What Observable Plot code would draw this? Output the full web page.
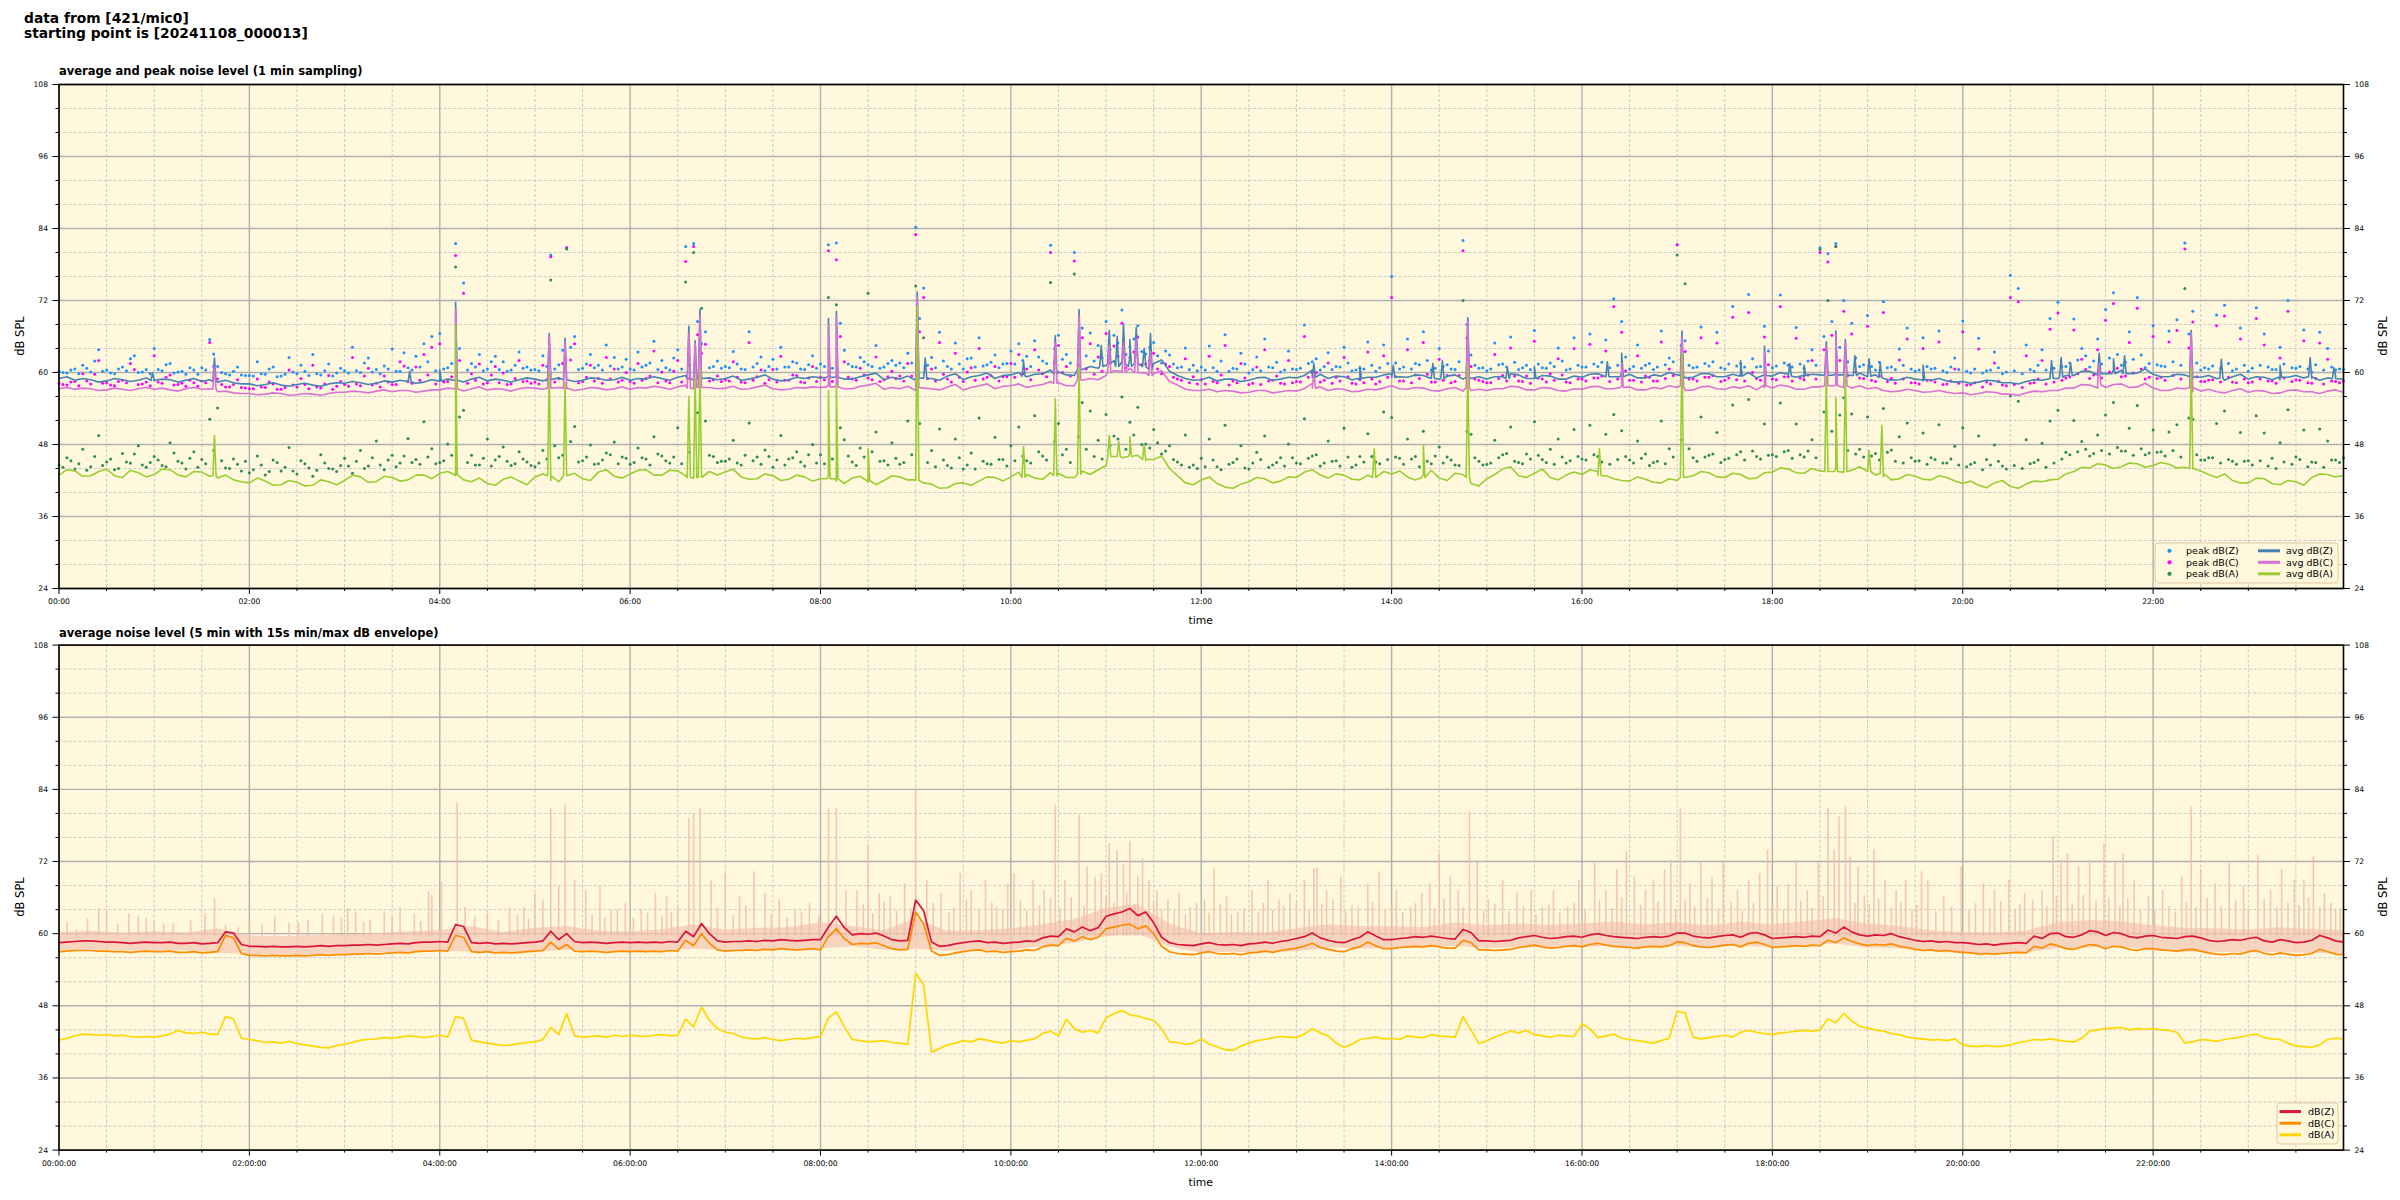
<!DOCTYPE html>
<html><head><meta charset="utf-8">
<script src="https://cdn.jsdelivr.net/npm/d3@7"></script>
<script src="https://cdn.jsdelivr.net/npm/@observablehq/plot@0.6"></script>
<style>
body{margin:0;background:#fff;}
#root{position:relative;width:2400px;height:1200px;overflow:hidden;background:#fff;}
#root > svg{position:absolute;left:0;}
</style></head><body><div id="root"></div>
<script>
// ---------------- tick definitions ----------------
const yMajor = [24, 36, 48, 60, 72, 84, 96, 108];
const xMajor = [0, 120, 240, 360, 480, 600, 720, 840, 960, 1080, 1200, 1320];
const xLabelsTop = ["00:00","02:00","04:00","06:00","08:00","10:00","12:00","14:00","16:00","18:00","20:00","22:00"];
const xLabelsBottom = ["00:00:00","02:00:00","04:00:00","06:00:00","08:00:00","10:00:00","12:00:00","14:00:00","16:00:00","18:00:00","20:00:00","22:00:00"];

// ---------------- top chart: 1-min averages (5-min samples, one row per hour) ----------------
const avgZ = [
59.0,59.3,58.7,59.0,58.8,58.4,58.6,59.0,58.8,58.5,58.7,59.1, 58.6,58.9,58.8,58.4,58.7,59.0,58.5,58.8,58.4,58.7,58.3,58.1,
58.1,57.8,58.0,58.3,57.9,57.7,58.0,58.2,57.9,57.7,58.1,58.3, 58.2,58.5,58.3,58.0,58.2,58.6,58.4,58.7,58.5,58.2,58.4,58.8,
58.6,58.9,58.7,58.4,58.9,59.2,58.6,58.9,58.7,58.4,58.8,59.1, 58.9,58.6,59.3,59.1,58.8,58.5,58.7,59.1,59.0,58.7,58.8,59.2,
58.7,59.0,58.9,59.3,59.0,58.7,59.2,59.5,58.8,59.1,59.1,58.8, 59.0,59.4,58.7,58.9,59.2,59.6,58.9,58.6,58.8,59.2,59.0,59.3,
59.1,59.5,59.4,58.9,58.9,59.3,59.6,59.9,58.8,59.2,58.9,59.4, 58.7,59.1,59.0,58.7,59.4,59.8,58.8,59.3,59.5,59.9,59.0,59.5,
59.6,60.0,59.3,59.7,59.8,60.4,60.1,59.6,59.5,60.5,61.0,60.7, 61.2,62.0,61.8,62.4,62.5,61.5,61.5,62.1,60.2,59.5,59.0,58.7,
58.8,59.2,58.6,58.9,58.9,58.5,58.7,59.1,59.2,58.7,58.9,59.2, 59.1,59.5,60.4,59.7,59.0,59.4,59.3,58.8,58.8,59.2,59.2,59.6,
59.8,59.3,59.2,59.6,59.5,59.0,58.9,59.4,59.6,58.9,59.0,59.3, 58.9,59.3,59.3,59.8,59.6,59.0,59.0,59.5,59.4,58.9,58.9,59.4,
59.2,59.7,59.8,59.3,59.3,59.9,59.7,59.1,59.1,59.6,59.4,60.0, 59.6,59.1,59.2,59.8,59.8,59.3,59.3,59.7,59.5,60.0,59.1,59.6,
59.4,60.0,59.7,59.2,59.2,59.7,59.6,60.2,60.0,59.6,59.5,59.9, 59.3,59.6,59.0,58.7,58.8,59.2,58.9,58.6,58.7,59.0,58.6,58.4,
58.5,58.2,58.4,58.7,58.6,58.3,58.3,58.1,58.5,58.8,58.7,59.0, 59.0,59.5,59.5,60.2,60.2,59.6,59.8,60.4,60.4,59.8,59.9,60.6,
59.7,59.3,59.3,59.7,59.6,59.0,59.2,59.5,59.0,58.7,59.3,59.7, 58.9,59.3,59.2,58.8,58.8,59.2,59.5,59.1,59.0,58.7,59.1,59.4,
58.9];
const avgC = [
57.3,57.5,57.2,57.4,57.3,57.0,57.1,57.4,57.2,57.0,57.3,57.5, 57.2,57.4,57.1,56.9,57.3,57.5,57.2,57.3,56.8,56.9,56.6,56.5,
56.5,56.3,56.4,56.6,56.5,56.2,56.3,56.5,56.4,56.2,56.5,56.7, 56.7,56.9,56.8,56.6,56.9,57.1,56.8,57.0,57.0,56.7,56.9,57.1,
57.1,57.4,57.2,56.9,57.3,57.6,57.1,57.3,57.2,56.9,57.3,57.5, 57.4,57.2,57.7,57.5,57.3,57.0,57.2,57.5,57.4,57.1,57.3,57.6,
57.2,57.5,57.4,57.7,57.5,57.2,57.6,57.9,57.3,57.5,57.5,57.3, 57.4,57.7,57.2,57.3,57.6,57.9,57.3,57.1,57.2,57.5,57.4,57.6,
57.5,57.9,57.8,57.3,57.3,57.7,57.9,58.2,57.2,57.5,57.3,57.7, 57.0,57.4,57.3,57.1,57.6,58.0,57.1,57.5,57.8,58.1,57.3,57.7,
57.8,58.1,57.5,57.8,58.0,58.5,58.3,57.8,57.8,58.7,59.0,58.8, 59.5,60.3,60.2,60.7,60.8,59.9,59.8,60.3,58.5,57.9,57.2,57.0,
57.0,57.2,56.8,57.0,56.9,56.6,56.7,57.0,57.0,56.6,56.8,57.0, 56.9,57.3,58.2,57.6,57.0,57.3,57.2,56.8,56.9,57.2,57.1,57.4,
57.8,57.3,57.2,57.5,57.4,57.0,56.9,57.3,57.5,56.9,57.0,57.2, 57.0,57.3,57.3,57.7,57.6,57.1,57.1,57.5,57.4,57.0,56.9,57.3,
57.2,57.6,57.7,57.3,57.3,57.8,57.6,57.1,57.1,57.5,57.3,57.8, 57.5,57.0,57.1,57.6,57.7,57.3,57.2,57.6,57.4,57.8,57.1,57.5,
57.4,57.9,57.7,57.2,57.2,57.6,57.6,58.1,57.9,57.5,57.4,57.8, 57.3,57.5,57.0,56.8,56.9,57.2,57.0,56.7,56.8,57.0,56.7,56.5,
56.6,56.3,56.5,56.8,56.7,56.4,56.4,56.2,56.6,56.9,56.8,57.0, 57.0,57.4,57.4,58.0,57.9,57.4,57.5,58.0,58.1,57.5,57.6,58.2,
57.4,57.0,57.0,57.4,57.3,56.8,56.9,57.2,56.8,56.6,57.0,57.3, 56.7,57.0,56.9,56.5,56.6,57.0,57.1,56.8,56.8,56.5,56.9,57.1,
56.7];
const avgA = [
42.9,43.8,43.6,42.7,42.8,43.5,43.9,42.8,42.5,43.7,43.3,42.6, 43.0,43.9,43.8,42.9,42.6,43.5,43.4,42.7,42.4,42.9,42.1,41.8,
41.6,42.4,41.9,41.2,41.3,42.0,41.7,41.1,41.2,42.1,41.8,41.3, 42.0,42.9,42.6,41.7,41.8,42.7,42.5,41.9,42.1,42.9,42.9,42.3,
43.2,43.5,42.8,42.1,41.8,42.4,41.5,41.2,42.2,42.6,41.9,41.3, 42.6,43.1,42.0,41.8,42.8,43.2,42.3,42.0,43.4,43.8,42.7,42.4,
43.1,43.7,43.8,42.9,42.9,43.7,43.6,42.8,42.4,43.2,43.5,42.9, 43.4,43.9,42.6,42.2,42.3,43.1,42.8,42.0,42.2,42.9,42.6,41.9,
42.3,42.8,41.9,41.5,42.4,42.7,41.7,41.3,42.0,42.8,42.6,42.1, 42.1,41.6,41.4,40.7,40.8,41.5,41.6,41.2,41.9,42.6,42.5,41.9,
42.6,43.4,43.0,42.4,42.2,43.3,43.2,42.5,42.5,43.6,43.0,43.8, 44.5,46.0,45.8,46.6,46.2,45.3,45.5,46.1,44.0,42.8,41.6,41.3,
42.1,42.6,41.5,40.9,40.7,41.4,41.8,42.5,42.3,41.6,41.9,42.6, 42.5,43.4,43.8,42.9,42.4,43.1,42.9,42.2,42.1,42.9,42.8,43.5,
43.1,43.6,42.6,42.1,43.0,43.7,42.4,42.0,43.2,43.0,41.5,41.1, 42.3,43.0,43.9,44.3,42.8,42.5,43.2,43.9,42.5,42.1,42.9,43.4,
43.0,43.8,43.5,42.8,42.3,42.0,41.9,42.6,42.2,41.7,41.6,42.3, 42.0,42.5,42.8,43.5,43.3,42.6,42.5,43.2,43.0,42.3,42.4,43.3,
43.4,44.1,43.9,43.3,43.2,44.0,43.6,44.2,44.0,43.4,43.7,44.3, 43.5,42.9,42.6,42.1,42.3,43.0,42.7,42.2,42.1,42.8,42.5,41.9,
41.5,41.9,41.2,40.8,41.6,42.0,41.0,40.7,41.4,41.9,41.8,42.1, 42.2,43.1,43.5,44.2,44.1,44.8,44.6,44.0,44.3,44.9,44.8,44.2,
44.5,45.0,44.7,44.1,44.2,44.6,43.6,43.0,42.5,43.1,42.0,41.6, 41.6,42.4,42.3,41.5,41.3,42.0,41.8,41.2,42.5,43.1,43.0,42.6,
42.8];
// short events: [minute, level beside the event, level at the event]
const spikesZ = [[59,58.7,59.9],[98,58.5,62.4],[221,58.4,60.2],[240,58.6,60.5],[250,58.7,71.7],[309,58.8,66.5],[319,58.8,65.7],
[397,58.9,67.7],[401,58.9,65.3],[404,59.0,70.5],[485,59.2,69.0],[490,59.2,70.2],[541,59.0,73.4],[546,59.0,62.4],[608,59.4,61.8],
[628,59.8,66.1],[643,60.5,70.5],[657,61.0,64.5],[662,61.5,67.0],[667,61.0,66.0],[671,61.5,68.0],[675,61.0,65.5],[679,61.5,67.5],
[684,61.0,64.0],[688,60.5,66.5],[791,59.2,61.5],[820,59.0,61.0],[841,59.2,61.2],[866,59.0,61.5],[872,59.0,62.0],[888,59.2,69.1],
[913,59.0,60.8],[930,59.0,61.0],[976,59.3,61.8],[985,59.3,63.2],[1023,59.5,66.9],[1060,59.4,62.0],[1075,59.5,64.4],[1091,59.4,61.5],
[1100,59.5,61.2],[1114,59.5,65.1],[1120,59.6,66.9],[1126,59.6,65.5],[1132,59.5,62.8],[1141,59.4,62.3],[1148,59.2,61.5],[1175,58.8,61.2],
[1256,59.0,62.0],[1262,59.2,62.5],[1268,59.5,61.5],[1286,59.8,63.2],[1295,59.8,62.3],[1302,59.8,62.8],[1344,59.3,67.0],[1363,59.0,62.2],
[1400,59.2,61.2],[1419,59.3,62.5],[1434,59.0,60.8]];
const spikesC = [[98,57.2,60.9],[250,57.3,70.4],[309,57.4,66.0],[319,57.4,65.0],[397,57.4,66.5],[401,57.5,64.8],[404,57.5,69.5],
[485,57.6,68.0],[490,57.6,69.5],[541,57.5,72.5],[628,58.2,65.0],[643,58.8,69.5],[662,60.0,64.5],[671,60.0,65.0],[679,60.0,65.5],
[688,59.5,63.5],[791,57.4,59.8],[888,57.5,68.5],[985,57.5,61.5],[1023,57.8,66.0],[1075,57.8,63.5],[1114,57.8,64.5],[1120,57.8,66.2],
[1126,57.8,65.0],[1286,58.0,61.5],[1344,57.5,66.5]];
const spikesA = [[98,42.8,49.5],[250,43.0,68.0],[309,42.8,60.0],[319,42.8,58.3],[397,42.5,56.0],[401,42.5,59.0],[404,42.5,60.5],
[485,42.3,57.0],[490,42.3,58.0],[510,42.0,47.3],[541,42.0,71.0],[608,42.5,47.6],[628,42.8,55.6],[643,43.0,60.8],[662,46.0,49.5],
[668,46.0,48.5],[675,46.0,49.3],[684,45.5,48.0],[829,42.5,47.3],[860,42.5,47.9],[888,42.5,61.3],[971,42.8,47.3],[1023,42.5,63.3],
[1114,43.5,59.3],[1120,43.5,55.8],[1126,43.5,59.6],[1141,43.5,47.0],[1149,43.2,51.2],[1344,44.0,60.8]];

// ---------------- top chart: 1-min peaks (two interleaved 5-min samplings) ----------------
const peakZ = [
60.2,59.9,60.6,61.2,60.1,63.8,60.4,59.8,60.9,62.3,60.0,60.5, 64.0,60.3,61.5,60.1,59.7,60.4,60.8,65.5,61.0,59.8,60.2,59.6,
59.5,61.8,59.7,60.9,59.4,62.5,59.8,60.2,63.0,59.6,61.4,59.9, 60.3,64.2,60.0,62.4,60.5,61.1,63.9,60.2,60.8,62.7,64.8,66.0,
66.5,60.8,81.5,74.9,61.5,63.0,60.6,62.7,61.8,60.4,63.4,60.9, 60.5,62.8,79.6,61.3,80.8,66.0,60.7,63.0,61.2,64.6,62.5,60.9,
60.6,63.4,61.2,65.2,62.0,60.4,63.8,81.0,81.5,64.8,60.8,61.9, 61.0,63.5,60.6,66.8,61.5,60.3,62.2,64.2,60.9,61.6,60.5,62.8,
61.4,81.3,81.6,63.7,61.0,62.5,61.3,64.5,60.9,62.0,61.6,63.2, 84.2,74.1,62.5,66.7,61.0,64.9,60.6,62.4,65.8,61.3,62.9,61.4,
63.6,64.8,62.7,65.3,61.9,81.2,66.2,63.0,80.0,67.4,66.6,64.5, 68.5,66.2,70.4,64.3,67.8,63.1,65.0,61.6,62.9,60.8,64.1,61.2,
60.9,64.4,60.2,66.3,60.7,63.2,59.9,62.6,65.6,60.8,60.1,63.6, 60.5,67.9,61.8,60.4,63.3,61.0,64.2,60.3,60.7,65.1,60.2,64.6,
76.0,60.6,65.6,61.5,66.8,60.4,64.0,61.3,60.5,82.0,62.9,60.7, 60.3,64.9,61.4,65.9,60.5,61.2,67.0,60.8,61.6,64.1,60.4,65.8,
60.9,66.4,61.0,65.4,72.3,68.5,60.6,64.6,61.2,60.5,66.9,62.4, 81.3,65.3,60.8,67.6,61.1,66.7,60.6,71.0,61.5,73.0,60.9,67.7,
60.8,72.9,61.2,67.5,60.7,63.8,80.8,79.8,81.5,72.0,68.2,61.0, 69.5,60.4,71.8,60.9,63.9,67.4,60.2,65.8,60.6,66.9,60.0,62.4,
68.6,59.9,65.7,60.3,63.4,59.8,76.2,74.0,64.6,60.2,63.8,69.0, 71.7,61.0,68.9,64.0,60.9,65.6,70.5,73.3,61.2,66.8,72.5,60.8,
67.8,61.1,66.9,68.8,81.6,70.2,60.4,60.6,69.6,71.2,60.3,67.4, 60.2,70.8,66.4,60.5,64.2,72.0,60.7,67.1,60.1,66.7,64.0,60.4,
60.5];
const peakZ2 = [
60.0,60.4,59.8,60.7,61.9,60.2,59.9,60.6,60.3,62.8,60.1,59.8, 60.5,61.3,59.9,60.2,60.8,59.7,60.4,63.1,60.0,59.6,60.9,59.5,
59.4,59.8,60.6,59.3,59.7,60.1,61.2,59.5,59.8,60.3,59.4,60.7, 59.9,60.3,61.6,60.1,59.8,60.6,60.2,63.3,60.4,60.9,61.8,60.3,
60.6,61.5,64.0,60.4,60.9,60.3,61.8,60.5,60.2,61.2,60.7,60.4, 60.3,61.0,60.6,63.7,64.2,60.5,61.4,60.8,60.4,61.1,60.6,62.2,
60.4,60.9,61.6,60.5,60.8,62.4,60.6,61.2,68.5,66.8,61.0,60.7, 60.8,61.4,60.5,60.9,62.6,61.0,60.6,60.9,61.8,60.6,61.3,60.7,
61.0,60.7,68.2,61.4,60.9,61.8,61.0,60.7,61.5,61.2,60.8,61.6, 69.0,61.2,60.8,61.9,60.6,61.4,62.3,60.9,61.1,61.7,60.8,61.5,
61.4,62.0,61.0,62.6,61.5,63.9,62.2,61.6,63.4,62.8,61.9,62.4, 63.8,64.9,63.0,65.6,63.5,64.2,62.8,63.6,61.4,60.9,60.5,60.3,
60.4,60.8,61.9,60.2,60.6,61.4,60.5,60.3,60.9,61.7,60.4,60.6, 60.7,61.5,62.3,61.0,60.5,60.9,61.6,60.4,60.6,61.2,60.8,61.5,
61.6,60.9,60.6,61.3,62.0,60.7,61.0,60.6,61.8,68.0,61.2,60.8, 60.6,61.3,60.9,61.7,60.8,60.5,61.4,60.7,61.0,61.9,60.6,61.2,
60.9,61.4,61.7,60.8,61.2,62.6,61.0,60.7,61.5,60.9,61.3,61.8, 64.5,61.2,60.9,61.5,61.8,60.8,61.4,61.1,60.9,62.3,61.0,63.6,
61.1,61.6,60.9,61.4,61.9,61.2,66.0,68.5,64.2,61.8,62.4,61.3, 61.0,61.7,60.8,60.5,61.2,60.6,60.4,61.0,60.7,60.3,60.9,60.5,
60.2,60.6,59.9,60.4,60.8,60.1,60.3,59.8,60.5,61.2,60.4,60.7, 61.0,61.6,62.1,62.8,61.9,61.4,62.4,63.0,61.7,62.2,62.9,61.5,
61.3,61.0,61.8,61.2,66.4,61.6,60.8,61.1,60.7,61.5,60.6,61.2, 60.7,61.2,60.9,60.5,61.4,60.8,61.0,60.6,61.3,60.4,60.9,60.6];
const peakC = [
58.2,57.9,58.5,59.8,58.1,62.0,58.3,57.8,58.7,61.5,58.0,58.4, 62.8,58.2,59.6,58.0,57.7,58.3,58.6,65.0,58.9,57.6,58.0,57.5,
57.3,58.9,57.5,58.1,57.2,60.4,57.6,58.0,61.2,57.4,59.5,57.7, 58.0,62.5,57.8,60.7,58.2,59.4,58.0,61.8,58.5,60.9,63.0,64.2,
64.8,58.5,79.5,73.2,59.8,61.4,58.3,61.0,59.9,58.1,62.0,58.6, 58.4,61.2,79.3,59.0,80.8,64.8,58.5,61.2,59.0,62.5,60.6,58.7,
58.5,61.5,59.0,63.6,60.1,58.3,62.0,78.5,81.0,63.2,58.6,59.4, 58.8,61.8,58.4,65.0,59.3,58.2,60.5,62.7,58.7,59.5,58.3,61.0,
59.2,80.3,78.8,61.8,58.9,60.7,59.1,62.6,58.8,60.2,59.4,61.5, 83.0,72.5,60.6,65.0,58.9,63.2,58.5,60.8,64.0,59.2,61.0,59.3,
61.5,63.0,60.6,63.8,59.8,80.0,64.5,61.0,78.6,65.8,64.8,62.6, 66.5,64.4,68.2,62.5,65.9,61.4,63.2,59.8,61.0,58.9,62.3,59.3,
58.8,62.7,58.3,64.5,58.6,61.5,58.0,60.9,63.8,58.7,58.2,62.0, 58.5,66.0,60.0,58.4,61.6,59.2,62.5,58.2,58.8,63.4,58.1,62.8,
72.5,58.6,63.8,59.6,65.0,58.4,62.2,59.5,58.5,80.3,61.0,58.7, 58.3,63.0,59.5,64.1,58.6,59.4,65.2,58.9,59.8,62.3,58.4,64.0,
58.9,64.7,59.1,63.6,71.0,66.7,58.7,62.8,59.4,58.6,65.1,60.6, 81.3,63.5,58.9,65.8,59.2,64.9,58.7,69.2,59.6,70.0,59.0,65.9,
58.9,71.0,59.3,65.7,58.8,62.0,80.0,78.4,81.0,70.2,66.4,59.1, 67.7,58.5,70.0,59.0,62.1,65.6,58.3,64.0,58.7,65.1,58.1,60.6,
66.8,58.0,63.9,58.4,61.6,57.9,72.5,71.8,62.8,58.3,62.0,67.2, 69.9,59.1,67.1,62.2,59.0,63.8,68.7,71.5,59.3,65.0,70.7,58.9,
66.0,59.2,65.1,67.0,80.6,68.4,58.5,58.7,67.8,69.4,58.4,65.6, 58.3,69.0,64.6,58.6,62.4,70.2,58.8,65.3,58.2,64.9,62.2,58.5,
58.6];
const peakC2 = [
58.0,58.4,57.8,58.6,59.7,58.2,57.9,58.5,58.3,60.5,58.1,57.8, 58.4,59.2,57.9,58.2,58.7,57.7,58.3,61.0,58.0,57.6,58.8,57.4,
57.3,57.6,58.4,57.2,57.5,57.9,59.0,57.3,57.6,58.1,57.2,58.5, 57.7,58.1,59.4,57.9,57.6,58.4,58.0,61.1,58.2,58.7,59.6,58.1,
58.4,59.3,62.0,58.2,58.7,58.1,59.6,58.3,58.0,59.0,58.5,58.2, 58.1,58.8,58.4,61.5,62.1,58.3,59.2,58.6,58.2,58.9,58.4,60.0,
58.2,58.7,59.4,58.3,58.6,60.2,58.4,59.0,66.3,64.7,58.8,58.5, 58.6,59.2,58.3,58.7,60.4,58.8,58.4,58.7,59.6,58.4,59.1,58.5,
58.8,58.5,66.0,59.2,58.7,59.6,58.8,58.5,59.3,59.0,58.6,59.4, 66.8,59.0,58.6,59.7,58.4,59.2,60.1,58.7,58.9,59.5,58.6,59.3,
59.2,59.8,58.8,60.4,59.3,61.7,60.0,59.4,61.2,60.6,59.7,60.2, 61.6,62.7,60.8,63.4,61.3,62.0,60.6,61.4,59.2,58.7,58.3,58.1,
58.1,58.5,59.6,57.9,58.3,59.1,58.2,58.0,58.6,59.4,58.1,58.3, 58.4,59.2,60.0,58.7,58.2,58.6,59.3,58.1,58.3,58.9,58.5,59.2,
59.3,58.6,58.3,59.0,59.7,58.4,58.7,58.3,59.5,65.8,58.9,58.5, 58.3,59.0,58.6,59.4,58.5,58.2,59.1,58.4,58.7,59.6,58.3,58.9,
58.6,59.1,59.4,58.5,58.9,60.3,58.7,58.4,59.2,58.6,59.0,59.5, 62.2,58.9,58.6,59.2,59.5,58.5,59.1,58.8,58.6,60.0,58.7,61.3,
58.8,59.3,58.6,59.1,59.6,58.9,63.8,66.2,62.0,59.5,60.1,59.0, 58.7,59.4,58.5,58.2,58.9,58.3,58.1,58.7,58.4,58.0,58.6,58.2,
57.9,58.3,57.6,58.1,58.5,57.8,58.0,57.5,58.2,58.9,58.1,58.4, 58.7,59.3,59.8,60.5,59.6,59.1,60.1,60.7,59.4,59.9,60.6,59.2,
59.0,58.7,59.5,58.9,64.1,59.3,58.5,58.8,58.4,59.2,58.3,58.9, 58.4,58.9,58.6,58.2,59.1,58.5,58.7,58.3,59.0,58.1,58.6,58.3];
const peakA = [
44.6,45.8,43.9,47.2,44.3,49.5,45.1,43.8,46.5,44.9,47.8,44.2, 46.0,44.5,48.3,45.2,43.9,46.8,45.5,52.2,54.1,44.1,45.6,43.6,
43.3,46.1,42.9,45.4,43.6,47.5,43.1,44.8,42.7,46.3,44.0,43.5, 45.7,43.2,47.0,44.4,48.6,43.8,46.2,44.9,49.0,45.5,51.8,47.3,
45.0,48.1,77.6,53.7,46.2,44.6,48.9,45.4,47.6,44.5,46.8,45.1, 44.3,47.0,75.4,45.8,80.6,51.0,45.3,47.9,44.8,46.6,48.4,45.9,
44.7,47.4,45.6,49.3,46.1,44.9,50.8,75.1,80.0,70.7,46.2,45.0, 45.2,48.7,44.6,51.6,45.9,47.1,44.2,49.5,45.6,46.8,44.4,48.0,
46.3,72.5,71.3,48.8,45.1,47.4,73.2,50.1,45.3,48.3,44.7,51.9, 74.4,65.8,47.0,50.6,44.5,48.9,43.9,46.6,52.4,44.8,49.2,45.5,
47.8,50.9,45.3,52.8,46.1,75.0,51.5,47.2,76.4,55.0,53.6,48.7, 53.0,49.4,55.9,51.7,54.2,48.1,50.5,46.4,47.8,45.1,49.6,44.6,
45.7,48.9,44.3,51.2,45.0,47.8,43.9,46.7,49.4,44.6,45.8,48.1, 44.9,52.3,46.1,44.4,48.6,45.3,50.7,44.2,46.0,49.8,45.1,53.4,
52.5,45.7,48.9,46.0,50.2,44.8,47.6,45.9,44.6,72.0,49.7,45.2, 44.7,48.7,46.3,50.9,45.0,46.4,51.8,45.5,47.2,48.9,44.9,50.5,
45.6,51.2,46.0,49.7,53.0,50.3,45.4,48.6,46.4,45.0,51.9,47.3, 79.6,74.8,45.8,52.6,46.2,50.0,45.5,54.6,46.8,55.5,46.0,51.4,
46.3,54.9,47.0,51.4,45.9,48.8,80.5,72.0,81.0,55.8,53.1,47.2, 52.6,46.5,54.0,47.1,49.3,51.6,45.2,49.9,45.8,51.3,44.9,47.7,
50.8,44.7,49.4,45.5,47.9,44.4,56.1,55.2,48.8,45.0,48.2,51.9, 53.7,46.7,52.0,48.5,46.1,49.6,52.9,55.0,46.9,50.7,54.5,46.3,
50.4,46.8,50.1,51.3,74.0,52.2,45.4,45.8,51.5,53.6,45.2,50.0, 45.3,52.8,49.9,45.7,48.3,53.8,45.9,50.4,45.1,50.6,48.6,45.4,
45.8];
const peakA2 = [
44.2,45.3,44.8,43.7,46.0,44.5,45.6,44.0,45.1,46.4,44.6,45.0, 45.4,44.3,46.6,44.9,45.7,44.2,44.8,47.0,45.3,44.0,44.7,45.2,
43.8,44.6,43.5,45.0,44.2,43.6,45.3,44.1,43.7,44.9,43.9,44.5, 44.4,45.2,44.0,45.8,44.6,45.4,44.3,46.1,45.0,44.7,45.9,44.8,
45.3,46.2,52.6,45.0,44.6,45.7,44.4,46.0,45.2,44.8,45.6,44.5, 44.9,45.6,47.8,46.2,48.5,45.1,45.9,44.7,45.4,46.3,44.8,45.7,
45.0,45.8,44.6,46.4,45.3,45.9,44.8,46.7,53.3,51.9,46.0,45.2, 45.6,44.9,46.2,45.3,44.7,46.0,45.4,44.6,45.8,45.1,46.3,44.9,
44.8,45.6,50.8,46.1,44.5,45.9,46.8,45.2,44.6,45.7,45.0,46.3, 51.5,45.0,44.3,45.4,44.1,45.8,44.6,43.9,45.2,44.7,45.5,44.4,
45.3,46.1,44.9,46.8,45.4,48.5,46.3,45.0,49.3,47.2,46.0,45.6, 47.8,48.9,47.2,49.6,48.0,47.4,48.3,46.9,45.5,44.6,44.2,44.0,
44.3,45.4,43.8,44.7,45.6,44.1,44.9,45.5,44.2,45.0,44.4,45.8, 44.8,45.7,46.3,44.9,45.2,44.4,45.9,44.6,45.1,46.0,44.8,45.5,
45.9,44.7,45.6,44.3,45.2,46.1,44.9,45.4,44.5,50.2,45.8,44.6, 44.9,45.8,46.5,45.2,44.8,45.6,46.2,45.0,44.7,45.9,45.3,46.0,
45.4,46.3,45.1,44.7,45.5,46.0,44.9,45.7,44.5,45.2,44.8,45.9, 48.8,47.3,45.2,45.9,46.4,45.0,45.7,46.3,45.4,46.9,45.6,46.2,
46.0,46.8,45.7,46.3,46.9,45.8,53.4,50.2,52.9,47.0,46.4,45.9, 46.1,45.4,46.7,45.2,44.9,45.8,45.3,44.7,45.5,44.9,45.6,44.6,
44.3,45.0,43.8,44.6,45.2,43.9,44.5,44.0,44.8,45.4,44.2,44.9, 45.6,46.3,46.8,47.2,46.5,47.0,46.4,47.5,46.9,46.2,47.3,46.6,
46.7,46.1,47.0,45.9,52.4,46.3,45.4,45.8,44.9,45.5,44.7,45.2, 44.6,45.3,44.4,44.0,45.1,44.7,45.5,44.3,45.0,44.2,45.4,45.0];

// ---------------- bottom chart: 5-min averages (one row per hour) ----------------
const botZ = [
58.5,58.6,58.7,58.8,58.8,58.7,58.6,58.6,58.5,58.4,58.5,58.6, 58.5,58.5,58.6,58.4,58.4,58.5,58.3,58.4,58.5,60.3,60.1,58.2,
57.9,57.9,57.8,57.9,57.8,57.8,57.9,57.8,57.9,58.0,57.9,58.0, 58.0,58.1,58.1,58.2,58.1,58.2,58.3,58.4,58.3,58.5,58.6,58.6,
58.7,58.6,61.5,61.2,58.5,58.4,58.5,58.3,58.4,58.3,58.4,58.5, 58.6,58.8,60.4,59.0,60.0,58.7,58.5,58.6,58.5,58.4,58.5,58.6,
58.5,58.6,58.5,58.6,58.5,58.7,58.6,60.4,59.5,61.7,60.0,58.8, 58.6,58.7,58.7,58.8,58.7,58.9,58.8,59.0,58.9,58.8,58.9,59.0,
59.0,61.1,62.9,61.0,59.8,60.0,59.9,60.1,59.6,59.0,58.8,58.9, 65.6,63.8,58.6,57.9,58.0,58.3,58.5,58.7,58.8,58.5,58.6,58.4,
58.5,58.6,58.8,58.7,59.3,59.6,59.5,60.8,60.3,61.1,60.5,61.0, 62.9,63.3,63.6,64.2,63.0,63.6,61.8,59.4,58.5,58.2,58.1,58.0,
58.3,58.5,58.2,58.1,58.2,58.0,58.3,58.4,58.6,58.4,58.7,58.9, 59.2,59.5,60.1,59.3,58.9,58.6,58.5,59.0,59.4,60.3,59.6,59.0,
59.0,59.2,59.3,59.5,59.4,59.6,59.4,59.2,59.1,60.7,60.2,58.8, 58.8,58.7,58.8,58.9,59.3,59.5,59.7,59.4,59.2,59.3,59.5,59.6,
59.4,59.8,60.0,59.7,59.5,59.4,59.3,59.2,59.4,59.5,59.4,59.6, 60.1,60.1,59.6,59.4,59.3,59.5,59.7,59.8,59.4,60.0,60.2,59.8,
59.2,59.3,59.4,59.5,59.4,59.6,59.5,60.6,60.1,61.1,60.3,59.8, 59.6,59.8,59.7,60.0,59.5,59.2,58.9,58.7,58.8,58.6,58.7,58.5,
58.5,58.4,58.2,58.3,58.1,58.3,58.4,58.5,58.4,59.6,59.2,60.0, 60.1,59.5,59.4,59.8,60.5,60.3,59.7,60.2,60.0,59.5,59.3,59.6,
59.7,59.4,59.3,59.2,59.5,59.6,59.3,58.9,58.7,58.8,59.0,58.9, 59.2,59.4,58.8,58.6,59.0,58.8,58.5,58.6,58.9,59.7,59.3,58.8,
58.6];
const botC = [
57.0,57.1,57.2,57.2,57.2,57.1,57.1,57.0,57.0,56.9,57.0,57.1, 57.0,57.0,57.1,56.9,56.9,57.0,56.8,56.9,57.0,59.7,59.3,56.7,
56.4,56.4,56.3,56.4,56.3,56.3,56.4,56.3,56.4,56.5,56.4,56.5, 56.5,56.6,56.6,56.7,56.6,56.7,56.8,56.9,56.8,57.0,57.1,57.1,
57.2,57.1,59.7,59.4,57.0,56.9,57.0,56.8,56.9,56.8,56.9,57.0, 57.1,57.2,58.6,57.4,58.2,57.1,57.0,57.1,57.0,56.9,57.0,57.1,
57.0,57.1,57.0,57.1,57.0,57.2,57.1,58.9,58.0,60.0,58.4,57.3, 57.1,57.2,57.2,57.3,57.2,57.4,57.3,57.5,57.4,57.3,57.4,57.5,
57.3,59.5,60.8,59.2,58.2,58.4,58.3,58.5,58.0,57.5,57.3,57.4, 63.6,61.6,57.1,56.4,56.5,56.8,57.0,57.2,57.3,57.0,57.1,56.9,
57.0,57.1,57.3,57.2,57.8,58.1,58.0,59.2,58.8,59.5,59.0,59.4, 60.8,61.1,61.4,61.6,60.8,61.3,60.0,57.9,57.0,56.7,56.6,56.5,
56.8,57.0,56.7,56.6,56.7,56.5,56.8,56.9,57.1,56.9,57.2,57.4, 57.6,57.9,58.4,57.7,57.4,57.1,57.0,57.5,57.8,58.6,58.0,57.5,
57.5,57.7,57.8,57.9,57.8,58.0,57.8,57.6,57.6,58.9,58.5,57.3, 57.3,57.2,57.3,57.4,57.7,57.9,58.1,57.8,57.6,57.7,57.9,58.0,
57.8,58.2,58.4,58.1,57.9,57.8,57.7,57.6,57.8,57.9,57.8,58.0, 58.6,58.5,58.0,57.8,57.7,57.9,58.1,58.2,57.8,58.4,58.6,58.2,
57.7,57.8,57.9,58.0,57.9,58.1,58.0,58.9,58.5,59.3,58.7,58.3, 58.0,58.2,58.1,58.3,57.9,57.7,57.4,57.2,57.3,57.1,57.2,57.0,
56.9,56.8,56.6,56.7,56.6,56.7,56.8,56.9,56.8,57.9,57.6,58.3, 58.0,57.5,57.4,57.8,58.2,58.0,57.5,57.9,57.8,57.4,57.2,57.5,
57.5,57.3,57.2,57.1,57.3,57.4,57.1,56.8,56.6,56.5,56.7,56.6, 57.0,57.2,56.7,56.5,56.8,56.6,56.4,56.5,56.7,57.4,57.0,56.6,
56.5];
const botA = [
42.3,42.6,43.0,43.3,43.2,43.1,43.2,43.0,43.1,42.9,42.8,42.9, 42.8,43.0,43.3,43.9,43.5,43.4,43.6,43.3,43.2,46.2,45.8,42.6,
42.4,42.2,41.9,42.0,41.8,42.1,41.7,41.5,41.3,41.1,41.0,41.4, 41.6,41.9,42.3,42.4,42.5,42.7,42.6,42.8,43.0,42.9,42.7,42.9,
43.1,42.8,46.2,45.9,42.3,42.0,41.8,41.6,41.4,41.5,41.7,41.9, 42.0,42.4,44.4,43.2,46.7,43.0,42.8,42.9,43.0,42.8,43.1,42.9,
43.1,43.0,42.9,43.1,43.2,43.0,43.1,45.8,44.5,47.8,45.6,44.2, 43.6,43.4,42.8,42.6,42.5,42.7,42.4,42.2,42.4,42.6,42.5,42.7,
42.9,46.0,47.0,44.5,42.4,42.2,42.0,42.1,42.2,41.9,41.8,41.6, 53.4,51.5,40.3,40.9,41.5,41.8,42.2,42.0,42.5,42.3,42.0,41.8,
42.2,42.0,42.3,42.5,43.4,43.8,43.0,45.8,44.2,43.6,43.9,43.5, 46.0,46.7,47.2,46.5,46.3,45.9,45.6,44.2,42.0,41.9,41.6,41.8,
42.5,41.6,41.2,40.7,40.6,41.3,41.8,42.2,42.4,42.7,42.9,42.8, 42.7,43.3,44.2,43.5,43.0,41.8,41.1,41.6,42.4,42.6,42.8,42.5,
42.6,42.4,43.0,42.8,42.7,43.2,43.0,42.9,42.8,46.2,44.0,41.7, 42.2,42.8,43.3,43.8,43.5,43.9,43.2,43.0,42.8,43.1,43.0,42.9,
45.0,44.2,42.7,43.0,43.3,42.6,42.4,42.2,42.0,41.8,42.2,42.6, 47.1,46.8,42.8,42.5,42.7,42.9,43.1,42.8,43.6,43.9,43.6,43.4,
43.2,43.5,43.6,43.8,43.9,43.8,44.0,45.8,45.2,46.7,45.5,44.6, 44.3,44.0,43.8,43.4,43.2,42.8,42.6,42.5,42.3,42.4,42.2,42.5,
41.5,41.3,41.2,41.4,41.2,41.3,41.5,41.9,42.1,42.4,42.3,42.5, 42.3,42.1,42.0,42.6,43.8,44.0,44.2,44.3,44.4,44.0,44.2,44.1,
44.2,44.0,43.9,43.6,41.8,42.0,42.4,42.3,42.1,42.4,42.6,42.8, 43.1,43.3,42.7,42.5,42.4,41.8,41.3,41.2,41.1,41.5,42.4,42.6,
42.5];
// 15 s min/max envelope (20-min samples) and its short maxima [minute, max dB]
const envLo = [
57.2,57.3,57.2, 57.1,57.2,56.8, 56.5,56.4,56.5, 56.6,56.8,56.9, 57.0,57.0,56.9, 56.9,57.3,57.1, 57.0,57.1,57.4, 57.2,57.3,57.4,
57.5,57.8,57.3, 57.4,57.1,57.1, 57.2,57.9,58.4, 59.5,60.0,57.8, 56.8,56.9,56.8, 57.0,57.6,57.5, 57.5,57.6,57.9, 57.5,57.7,57.6,
57.8,57.9,57.6, 57.9,57.6,57.9, 57.7,58.0,58.3, 57.6,57.5,57.0, 56.7,56.6,56.8, 57.5,57.6,57.8, 57.1,56.9,56.9, 56.8,56.9,56.7,
56.7];
const envHi = [
60.2,60.4,60.1, 60.3,60.1,60.8, 59.6,59.5,59.7, 59.8,60.0,60.3, 60.5,61.2,60.2, 60.9,61.2,60.4, 60.3,60.6,61.5, 60.6,60.9,61.0,
61.8,61.2,60.5, 62.5,60.4,60.5, 60.8,61.5,62.3, 64.2,64.8,61.6, 60.0,60.2,60.1, 60.8,61.5,61.2, 61.2,61.0,61.8, 61.3,61.6,61.4,
61.6,61.9,61.5, 61.8,61.3,61.9, 61.5,62.0,62.5, 61.6,61.2,60.5, 60.2,60.1,60.4, 61.8,62.2,62.0, 61.3,60.9,60.8, 60.6,61.0,60.7,
60.5];
const envPeaks = [[5,61.8],[11,60.6],[18,62.4],[25,64.2],[30,63.6],[37,61.5],[44,63.3],[50,62.9],[55,62.5],[60,62.0],[66,61.6],[72,61.7],
[83,62.1],[92,63.3],[98,65.8],[105,61.4],[113,61.0],[120,62.0],[128,61.5],[136,62.8],[145,61.7],[151,61.8],[157,62.2],[166,63.3],
[173,62.8],[178,62.5],[182,64.2],[187,63.6],[192,61.9],[196,62.2],[205,63.6],[210,62.7],[215,64.4],[224,63.3],[228,62.0],[233,66.9],
[235,66.4],[241,68.6],[251,81.7],[256,64.4],[262,62.8],[270,63.3],[277,62.2],[284,64.2],[289,63.0],[293,64.4],[296,62.4],[300,66.7],
[305,65.6],[310,80.8],[315,67.8],[319,81.4],[325,68.9],[332,67.2],[336,63.1],[341,67.8],[344,62.6],[348,63.9],[352,64.0],[357,65.0],
[362,62.5],[367,63.9],[371,63.4],[376,66.7],[380,62.8],[383,66.1],[386,63.5],[390,64.4],[397,79.2],[400,80.0],[404,80.8],[411,68.9],
[415,64.2],[420,70.0],[425,63.0],[429,66.1],[433,64.6],[438,70.3],[445,66.7],[449,63.2],[454,65.6],[459,62.7],[464,63.9],[468,63.6],
[473,65.0],[479,62.9],[485,80.8],[490,80.8],[496,67.2],[503,67.2],[507,64.8],[510,74.7],[513,63.3],[517,66.7],[520,65.2],[524,66.1],
[528,63.7],[533,68.3],[537,64.1],[540,83.8],[547,68.9],[551,65.0],[556,66.7],[561,63.5],[564,64.3],[568,70.0],[572,65.6],[575,67.2],
[580,63.9],[584,68.9],[588,65.1],[591,64.4],[595,64.0],[598,68.3],[602,70.0],[606,65.4],[610,63.8],[614,68.9],[618,64.6],[621,67.2],
[625,65.9],[628,81.4],[631,64.2],[634,68.9],[638,66.0],[643,79.7],[646,64.5],[648,71.1],[653,69.4],[657,70.0],[660,66.3],[662,75.0],
[665,65.1],[667,73.9],[671,71.4],[673,66.8],[675,75.3],[678,64.9],[680,69.4],[683,72.5],[687,68.9],[690,65.3],[692,67.2],[695,64.0],
[699,65.6],[703,63.8],[706,66.7],[710,63.2],[713,64.4],[717,65.0],[722,65.6],[725,63.4],[728,70.8],[732,64.8],[736,66.1],[739,63.1],
[743,63.6],[747,64.2],[752,67.2],[756,63.6],[759,65.0],[762,68.9],[765,63.9],[769,65.6],[772,64.6],[776,66.7],[780,65.3],[785,68.9],
[788,63.8],[791,70.8],[793,71.0],[796,64.9],[799,67.2],[803,65.6],[808,69.4],[811,63.7],[815,64.7],[819,64.4],[825,68.3],[828,65.2],
[832,70.3],[836,63.9],[840,64.7],[843,67.2],[847,63.5],[852,64.4],[855,65.0],[859,66.7],[864,68.3],[867,64.1],[870,73.3],[873,65.8],
[877,69.4],[882,67.2],[885,64.3],[889,80.3],[894,71.9],[898,63.8],[901,65.6],[905,64.9],[910,68.9],[914,63.6],[919,66.9],[923,64.5],
[928,67.2],[931,63.2],[935,64.4],[939,64.8],[942,67.2],[946,63.4],[951,64.4],[955,65.1],[958,68.9],[962,63.9],[968,71.7],[971,65.5],
[975,67.2],[979,64.2],[982,70.6],[985,66.0],[988,73.6],[993,69.4],[997,64.7],[1000,67.2],[1005,68.9],[1008,65.3],[1012,70.6],[1016,72.2],
[1019,64.0],[1022,80.8],[1025,65.6],[1028,68.3],[1031,64.4],[1035,71.7],[1039,65.9],[1042,69.4],[1046,64.1],[1049,71.7],[1054,65.2],
[1058,67.2],[1061,63.8],[1065,68.9],[1068,65.0],[1072,70.0],[1077,73.9],[1080,64.6],[1083,67.8],[1087,63.9],[1090,68.3],[1095,72.2],
[1098,65.4],[1102,67.2],[1105,64.2],[1109,71.7],[1112,66.1],[1115,80.8],[1119,73.9],[1122,79.4],[1126,81.1],[1129,72.8],[1132,65.0],
[1134,71.1],[1138,66.3],[1141,64.8],[1144,73.9],[1147,65.7],[1151,68.9],[1155,64.3],[1158,67.2],[1161,65.1],[1164,68.9],[1168,63.9],
[1171,64.7],[1174,70.3],[1178,68.9],[1183,63.6],[1188,66.1],[1193,64.4],[1199,71.1],[1204,63.8],[1208,65.0],[1213,68.3],[1217,64.1],
[1220,67.2],[1224,65.3],[1229,68.9],[1233,63.9],[1236,64.8],[1239,66.7],[1244,65.6],[1250,67.2],[1253,64.5],[1257,76.1],[1259,66.2],
[1262,72.2],[1266,73.3],[1269,65.0],[1273,71.1],[1276,66.4],[1280,72.2],[1284,65.3],[1289,75.0],[1292,66.0],[1296,71.7],[1299,64.6],
[1301,73.3],[1304,65.8],[1308,68.9],[1312,64.0],[1317,66.1],[1321,63.7],[1326,67.2],[1330,64.5],[1334,63.6],[1338,69.4],[1341,65.2],
[1344,81.1],[1347,64.4],[1350,70.6],[1354,65.9],[1359,68.3],[1363,64.6],[1368,71.7],[1372,65.4],[1377,67.8],[1380,64.0],[1386,73.1],
[1390,65.7],[1394,67.2],[1398,64.3],[1401,70.6],[1405,65.1],[1409,68.9],[1412,64.7],[1415,68.9],[1418,66.0],[1421,72.8],[1425,64.4],
[1428,66.7],[1432,65.0],[1435,63.9],[1438,64.2]];

// ---------------- build tables ----------------
const BG = "#fff8dc";
const yMinor = d3.range(24, 109, 4).filter(v => (v - 24) % 12 !== 0);
const xMinor = d3.range(0, 1441, 30).filter(m => m % 120 !== 0);
function series(base, step, offset = 0) { return base.map((v, i) => ({t: i * step + offset, v})); }
function withSpikes(base, step, spikes) {
  const pts = series(base, step);
  for (const [t, b, p] of spikes) pts.push({t: t - 1, v: b}, {t, v: p}, {t: t + 1, v: b});
  return pts.sort((a, b) => a.t - b.t);
}
const lineZ = withSpikes(avgZ, 5, spikesZ);
const lineC = withSpikes(avgC, 5, spikesC);
const lineA = withSpikes(avgA, 5, spikesA);
const dotsZ = series(peakZ, 5).concat(series(peakZ2, 5, 2.5));
const dotsC = series(peakC, 5).concat(series(peakC2, 5, 2.5));
const dotsA = series(peakA, 5).concat(series(peakA2, 5, 2.5));
const bZ = series(botZ, 5), bC = series(botC, 5), bA = series(botA, 5);
const env = envLo.map((lo, i) => ({t: i * 20, lo, hi: envHi[i]}));

function grid() {
  return [
    Plot.frame({fill: BG, stroke: "none"}),
    Plot.gridX(xMinor, {stroke: "#c4c4c4", strokeOpacity: 1, strokeWidth: 0.9, strokeDasharray: "3,2"}),
    Plot.gridY(yMinor, {stroke: "#c4c4c4", strokeOpacity: 1, strokeWidth: 0.9, strokeDasharray: "3,2"}),
    Plot.gridX(xMajor, {stroke: "#b0b0b0", strokeOpacity: 1, strokeWidth: 1.4}),
    Plot.gridY(yMajor, {stroke: "#b0b0b0", strokeOpacity: 1, strokeWidth: 1.4})
  ];
}
function axes(labels) {
  return [
    Plot.frame({stroke: "#000", strokeWidth: 1.6}),
    Plot.axisY(yMajor, {anchor: "left", tickSize: 6, tickPadding: 5, label: null}),
    Plot.axisY(yMinor, {anchor: "left", tickSize: 3, tickFormat: () => "", label: null}),
    Plot.axisY(yMajor, {anchor: "right", tickSize: 6, tickPadding: 5, label: null}),
    Plot.axisY(yMinor, {anchor: "right", tickSize: 3, tickFormat: () => "", label: null}),
    Plot.axisX(xMajor, {anchor: "bottom", tickSize: 6, tickPadding: 4, label: null,
      tickFormat: d => labels[xMajor.indexOf(d)]}),
    Plot.axisX(xMinor, {anchor: "bottom", tickSize: 3, tickFormat: () => "", label: null})
  ];
}
const common = {
  width: 2400, marginLeft: 58.5, marginRight: 57,
  x: {domain: [0, 1440]}, y: {domain: [24, 108]},
  style: {fontFamily: '"DejaVu Sans", sans-serif', fontSize: "7.6px", color: "#000", background: "transparent", overflow: "visible"}
};

const topChart = Plot.plot({
  ...common, height: 554, marginTop: 10, marginBottom: 40,
  marks: [
    ...grid(),
    Plot.dot(dotsZ, {x: "t", y: "v", r: 1.5, fill: "#1e90ff"}),
    Plot.dot(dotsC, {x: "t", y: "v", r: 1.5, fill: "#ff00ff"}),
    Plot.dot(dotsA, {x: "t", y: "v", r: 1.5, fill: "#2e8b57"}),
    Plot.line(lineZ, {x: "t", y: "v", stroke: "#4682b4", strokeWidth: 1.6}),
    Plot.line(lineC, {x: "t", y: "v", stroke: "#da70d6", strokeWidth: 1.6}),
    Plot.line(lineA, {x: "t", y: "v", stroke: "#9acd32", strokeWidth: 1.6}),
    ...axes(xLabelsTop)
  ]
});
const bottomChart = Plot.plot({
  ...common, height: 555, marginTop: 10.6, marginBottom: 39.4,
  marks: [
    ...grid(),
    Plot.areaY(env, {x: "t", y1: "lo", y2: "hi", fill: "#f3c4b1", fillOpacity: 0.7}),
    Plot.ruleX(envPeaks, {x: d => d[0], y1: 59.5, y2: d => d[1], stroke: "#f0bba6", strokeOpacity: 0.8, strokeWidth: 1.6}),
    Plot.line(bZ, {x: "t", y: "v", stroke: "#dc143c", strokeWidth: 1.7}),
    Plot.line(bC, {x: "t", y: "v", stroke: "#ff8c00", strokeWidth: 1.7}),
    Plot.line(bA, {x: "t", y: "v", stroke: "#ffd700", strokeWidth: 1.7}),
    ...axes(xLabelsBottom)
  ]
});

const root = document.getElementById("root");
topChart.style.top = "74px";
bottomChart.style.top = "634px";
root.append(topChart, bottomChart);

// ---------------- overlay: titles, axis labels, legends ----------------
const ov = d3.select(root).append("svg").attr("width", 2400).attr("height", 1200)
  .style("position", "absolute").style("left", 0).style("top", 0)
  .style("font-family", '"DejaVu Sans", sans-serif');
const T = (x, y, s, size, weight, anchor, rot) => {
  const t = ov.append("text").attr("x", x).attr("y", y).text(s)
    .attr("font-size", size).attr("font-weight", weight || "normal").attr("fill", "#000")
    .attr("text-anchor", anchor || "start");
  if (rot) t.attr("transform", `rotate(-90 ${x} ${y})`);
  return t;
};
T(24, 23.3, "data from [421/mic0]", 13.8, "bold");
T(24, 37.6, "starting point is [20241108_000013]", 13.8, "bold");
T(59, 75, "average and peak noise level (1 min sampling)", 11.5, "bold");
T(59, 637, "average noise level (5 min with 15s min/max dB envelope)", 11.5, "bold");
T(24, 336, "dB SPL", 11.5, null, "middle", true);
T(2387, 336, "dB SPL", 11.5, null, "middle", true);
T(24, 897, "dB SPL", 11.5, null, "middle", true);
T(2387, 897, "dB SPL", 11.5, null, "middle", true);
T(1200.7, 624, "time", 10.8, null, "middle");
T(1200.7, 1186, "time", 10.8, null, "middle");

// top legend
ov.append("rect").attr("x", 2155).attr("y", 543).attr("width", 183).attr("height", 40).attr("rx", 3)
  .attr("fill", BG).attr("fill-opacity", 0.85).attr("stroke", "#dcc9a3").attr("stroke-width", 1);
const topLeg = [["peak dB(Z)", "#1e90ff", "dot"], ["peak dB(C)", "#ff00ff", "dot"], ["peak dB(A)", "#2e8b57", "dot"],
  ["avg dB(Z)", "#4682b4", "line"], ["avg dB(C)", "#da70d6", "line"], ["avg dB(A)", "#9acd32", "line"]];
topLeg.forEach(([name, c, kind], i) => {
  const row = i % 3, col = Math.floor(i / 3);
  const cy = 550.8 + row * 11.5;
  if (kind === "dot") ov.append("circle").attr("cx", 2169.5).attr("cy", cy).attr("r", 2.1).attr("fill", c);
  else ov.append("line").attr("x1", 2258).attr("x2", 2280).attr("y1", cy).attr("y2", cy).attr("stroke", c).attr("stroke-width", 3);
  T(col ? 2286 : 2186, cy + 3.4, name, 9.5);
});
// bottom legend
ov.append("rect").attr("x", 2277).attr("y", 1103).attr("width", 61).attr("height", 41).attr("rx", 3)
  .attr("fill", BG).attr("fill-opacity", 0.85).attr("stroke", "#dcc9a3").attr("stroke-width", 1);
[["dB(Z)", "#dc143c"], ["dB(C)", "#ff8c00"], ["dB(A)", "#ffd700"]].forEach(([name, c], i) => {
  const cy = 1111.6 + i * 11.6;
  ov.append("line").attr("x1", 2279.5).attr("x2", 2301).attr("y1", cy).attr("y2", cy).attr("stroke", c).attr("stroke-width", 3);
  T(2308, cy + 3.4, name, 9.5);
});
</script></body></html>
